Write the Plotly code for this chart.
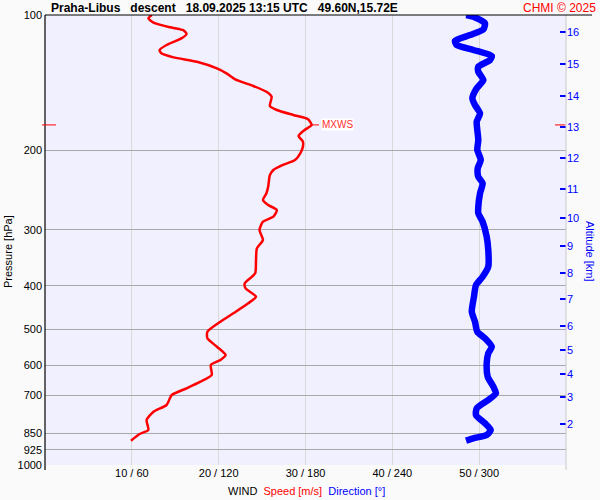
import math
import plotly.graph_objects as go

# ---- data ----
speed_pressure = [100.0, 101.7, 104.0, 106.5, 108.0, 110.2, 112.7, 116.6, 119.6, 121.6,
                  124.2, 127.0, 131.4, 134.8, 139.0, 143.8, 148.1, 151.9, 159.3, 162.6,
                  166.8, 170.5, 175.5, 180.1, 185.7, 191.2, 196.2, 202.9, 210.0, 215.4,
                  221.0, 226.8, 240.8, 249.0, 257.7, 264.4, 271.3, 280.7, 288.0, 300.5,
                  316.2, 330.0, 350.4, 375.0, 394.7, 404.9, 422.7, 437.2, 460.1, 480.4,
                  505.6, 523.0, 546.0, 569.7, 584.4, 599.5, 631.0, 653.0, 675.5, 699.0,
                  735.6, 761.3, 794.3, 836.0, 853.3, 883.1]
speed_ms = [12.3, 11.9, 12.5, 14.4, 15.9, 16.3, 15.7, 14.0, 13.2, 13.4,
            14.8, 17.5, 19.8, 20.9, 21.9, 24.0, 25.5, 26.1, 25.9, 26.7,
            28.6, 30.3, 30.7, 29.9, 29.2, 29.7, 29.7, 29.4, 28.8, 27.4,
            26.3, 25.9, 25.7, 25.5, 25.1, 25.7, 26.7, 26.3, 25.1, 24.7,
            25.1, 24.4, 24.3, 24.2, 23.0, 23.1, 24.3, 23.4, 21.7, 20.2,
            18.7, 18.7, 19.8, 20.8, 20.2, 19.1, 19.2, 17.9, 16.3, 14.6,
            14.0, 12.5, 11.7, 11.9, 10.9, 9.9]

dir_pressure = [100.0, 100.9, 104.3, 107.6, 110.8, 114.1, 116.6, 119.6, 123.3, 125.9,
                130.3, 133.7, 139.5, 145.5, 153.1, 158.5, 165.4, 172.6, 180.1, 189.6,
                199.5, 210.0, 219.1, 228.7, 236.6, 249.0, 266.7, 275.9, 288.0, 310.9,
                332.9, 362.5, 381.6, 398.1, 422.7, 456.3, 480.4, 505.6, 523.0, 546.0,
                564.7, 594.3, 636.6, 669.9, 693.0, 717.2, 748.2, 774.3, 807.8, 836.0,
                857.7, 872.4, 883.1]
direction_deg = [291.0, 296.0, 304.0, 302.9, 293.7, 283.3, 284.5, 296.0, 308.7, 307.5,
                 299.4, 299.4, 302.9, 298.3, 295.3, 297.1, 300.6, 298.3, 298.7, 299.4,
                 298.7, 301.1, 299.0, 299.4, 302.4, 300.6, 299.4, 299.4, 302.4, 305.2,
                 306.3, 306.3, 302.4, 297.8, 296.4, 294.9, 297.1, 298.7, 304.0, 308.7,
                 306.3, 305.2, 305.9, 309.8, 311.6, 306.3, 298.3, 297.8, 304.0, 308.0,
                 305.2, 296.0, 290.9]

mxws_pressure = 175.5
mxws_speed = 30.7

pressure_ticks = [100, 200, 300, 400, 500, 600, 700, 850, 925, 1000]
pressure_labels = [str(p) for p in pressure_ticks]

wind_tick_speed = [10, 20, 30, 40, 50]
wind_tick_labels = ["10 / 60", "20 / 120", "30 / 180", "40 / 240", "50 / 300"]

altitude_pressure = [109.1, 128.5, 151.4, 177.4, 207.8, 243.6, 282.6, 326.2,
                     374.5, 427.7, 491.0, 555.0, 628.0, 706.0, 811.0]
altitude_labels = ["16", "15", "14", "13", "12", "11", "10", "9",
                   "8", "7", "6", "5", "4", "3", "2"]

FONT = "Liberation Sans, Arial, sans-serif"
W, H = 600, 500
ML, MR, MT, MB = 45, 34, 15, 35
PW, PH = W - ML - MR, H - MT - MB


def px_x(px):
    return (px - ML) / PW


def px_y(py):
    return 1 - (py - MT) / PH


fig = go.Figure()

fig.add_trace(go.Scatter(
    x=direction_deg, y=dir_pressure, xaxis="x2", yaxis="y2",
    mode="lines", line=dict(color="#0000ff", width=6.5, shape="spline", smoothing=0.6),
    hoverinfo="skip", showlegend=False))

fig.add_trace(go.Scatter(
    x=speed_ms, y=speed_pressure, xaxis="x", yaxis="y",
    mode="lines", line=dict(color="#ff0000", width=2.5, shape="spline", smoothing=0.6),
    hoverinfo="skip", showlegend=False))

fig.update_layout(
    width=W, height=H,
    margin=dict(l=ML, r=MR, t=MT, b=MB, pad=0, autoexpand=False),
    paper_bgcolor="#fafafa", plot_bgcolor="#f0f0ff",
    font=dict(family=FONT, size=11, color="#000000"),
    showlegend=False,
    xaxis=dict(range=[0, 60], tickvals=wind_tick_speed, ticktext=wind_tick_labels,
               showgrid=True, gridcolor="#d9d9d9", gridwidth=1, zeroline=False,
               showline=False, ticks="", tickfont=dict(size=11, color="#000000"),
               automargin=False, fixedrange=True),
    xaxis2=dict(range=[0, 360], overlaying="x", visible=False, automargin=False),
    yaxis=dict(type="log", range=[3, 2], tickvals=pressure_ticks, ticktext=pressure_labels,
               showgrid=True, gridcolor="#a8a8a8", gridwidth=1, zeroline=False,
               showline=False, ticks="", tickfont=dict(size=11, color="#000000"),
               ticklabelstandoff=2, automargin=False),
    yaxis2=dict(type="log", range=[3, 2], overlaying="y", side="right", anchor="x",
                tickvals=altitude_pressure, ticktext=altitude_labels,
                showgrid=False, zeroline=False, showline=False,
                ticks="inside", ticklen=6, tickwidth=1.5, tickcolor="#0000ff",
                tickfont=dict(size=11, color="#0000ff"), automargin=False),
)

shapes = []
# right border
shapes.append(dict(type="line", xref="paper", yref="paper", x0=1, x1=1,
                   y0=px_y(470), y1=1, line=dict(color="#c8c8c8", width=1)))
# left black axis line
shapes.append(dict(type="line", xref="paper", yref="paper", x0=0, x1=0,
                   y0=px_y(470), y1=1, line=dict(color="#000000", width=1.2)))
# top black line
shapes.append(dict(type="line", xref="paper", yref="paper", x0=0, x1=px_x(592),
                   y0=1, y1=1, line=dict(color="#000000", width=1.2)))
# MXWS markers
shapes.append(dict(type="line", xref="x", yref="y", x0=mxws_speed, x1=mxws_speed + 0.85,
                   y0=mxws_pressure, y1=mxws_pressure, line=dict(color="#ff0000", width=1)))
shapes.append(dict(type="line", xref="paper", yref="y", x0=px_x(42), x1=px_x(56),
                   y0=mxws_pressure, y1=mxws_pressure, line=dict(color="#ff0000", width=1)))
shapes.append(dict(type="line", xref="paper", yref="y", x0=px_x(555), x1=px_x(565),
                   y0=mxws_pressure, y1=mxws_pressure, line=dict(color="#ff0000", width=1)))
fig.update_layout(shapes=shapes)

nb = "\u00a0"
annotations = [
    dict(text="<b>Praha-Libus" + nb * 3 + "descent" + nb * 3 + "18.09.2025 13:15 UTC" + nb * 3 + "49.60N,15.72E</b>",
         xref="paper", yref="paper", x=px_x(49), y=px_y(8), xanchor="left", yanchor="middle",
         showarrow=False, font=dict(size=12, color="#000000", family=FONT)),
    dict(text="CHMI © 2025", xref="paper", yref="paper", x=px_x(598), y=px_y(8),
         xanchor="right", yanchor="middle", showarrow=False,
         font=dict(size=12, color="#ff0000", family=FONT)),
    dict(text="Pressure [hPa]", xref="paper", yref="paper", x=px_x(8), y=px_y(252),
         xanchor="center", yanchor="middle", textangle=-90, showarrow=False,
         font=dict(size=11, color="#000000", family=FONT)),
    dict(text="Altitude [km]", xref="paper", yref="paper", x=px_x(590), y=px_y(251),
         xanchor="center", yanchor="middle", textangle=90, showarrow=False,
         font=dict(size=11, color="#0000ff", family=FONT)),
    dict(text="WIND" + nb * 2 + "<span style='color:#ff0000'>Speed [m/s]</span>" + nb * 2 +
         "<span style='color:#0000ff'>Direction [°]</span>",
         xref="paper", yref="paper", x=px_x(306), y=px_y(491), xanchor="center",
         yanchor="middle", showarrow=False, font=dict(size=11, color="#000000", family=FONT)),
    dict(text="MXWS", xref="x", yref="y", x=mxws_speed + 1.1, y=math.log10(mxws_pressure),
         xanchor="left", yanchor="middle", showarrow=False, bgcolor="#ffffff",
         borderpad=0, font=dict(size=10, color="#ff3030", family=FONT)),
]
fig.update_layout(annotations=annotations)

fig.write_html("out.html", config={"displayModeBar": False},
               post_script="document.body.style.margin='0';document.body.style.background='#fafafa';")
